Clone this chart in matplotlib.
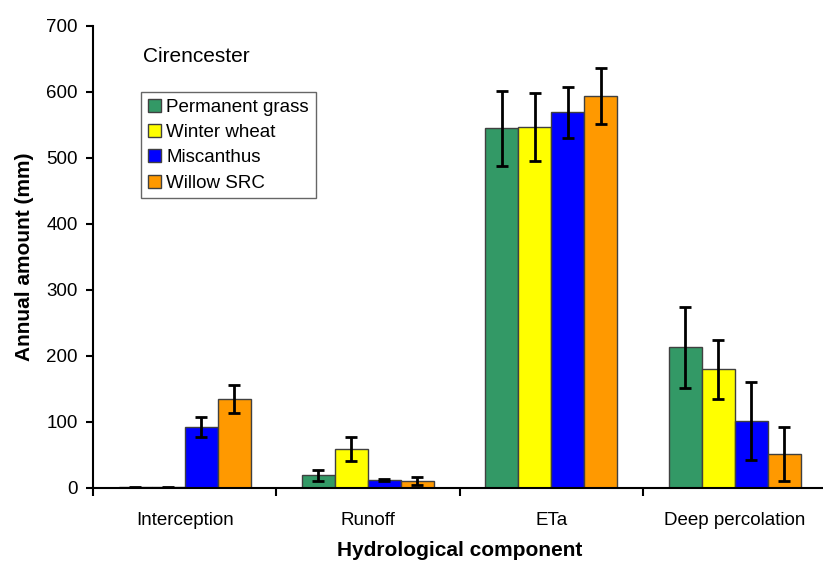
import matplotlib
matplotlib.use("Agg")
import matplotlib.pyplot as plt
import numpy as np

plt.rcParams['font.family'] = ['Liberation Sans', 'DejaVu Sans']

categories = ["Interception", "Runoff", "ETa", "Deep percolation"]
series = ["Permanent grass", "Winter wheat", "Miscanthus", "Willow SRC"]
colors = ["#339966", "#FFFF00", "#0000FF", "#FF9900"]

grass = [1, 19, 545, 213]
wheat = [1, 59, 547, 180]
miscanthus = [92, 12, 569, 101]
willow = [135, 10, 594, 51]

grass_err = [1, 9, 57, 61]
wheat_err = [1, 18, 51, 45]
miscanthus_err = [15, 1, 39, 59]
willow_err = [21, 6, 42, 41]

values = [grass, wheat, miscanthus, willow]
errors = [grass_err, wheat_err, miscanthus_err, willow_err]

fig = plt.figure(figsize=(8.23, 5.61), dpi=100)
ax = fig.add_axes([93/823, 73/561, 4*183.3/823, 462/561])

bw = 0.18
centers = np.arange(len(categories)) + 0.5
for i, (name, vals, errs, c) in enumerate(zip(series, values, errors, colors)):
    x = centers + (i - 1.5) * bw
    ax.bar(x, vals, width=bw, color=c, edgecolor="#404040", linewidth=1.0,
           label=name, zorder=2)
    ax.errorbar(x, vals, yerr=errs, fmt="none", ecolor="black", elinewidth=2,
                capsize=4, capthick=2, zorder=3)

ax.set_xlim(0, 4)
ax.set_ylim(0, 700)
ax.set_yticks(range(0, 701, 100))
ax.set_xticks([0, 1, 2, 3, 4])
ax.set_xticklabels([])
ax.set_xticks(centers, minor=True)
ax.set_xticklabels(categories, minor=True, fontsize=13.5)
ax.tick_params(axis="x", which="minor", length=0, pad=17)
ax.tick_params(axis="x", which="major", length=6, width=1.5, direction="out")
ax.tick_params(axis="y", length=5, width=1.5, direction="out", labelsize=13.5, pad=6)
for s in ["top", "right"]:
    ax.spines[s].set_visible(False)
for s in ["left", "bottom"]:
    ax.spines[s].set_linewidth(1.5)

ax.set_xlabel("Hydrological component", fontsize=15, fontweight="bold", labelpad=9)
ax.set_ylabel("Annual amount (mm)", fontsize=15, fontweight="bold", labelpad=9)

ax.text(0.068, 0.933, "Cirencester", transform=ax.transAxes, fontsize=15,
        ha="left", va="center")

leg = ax.legend(loc="upper left", bbox_to_anchor=((141-93)/733.2, (488-92)/462),
                fontsize=13.5, frameon=True, fancybox=False, edgecolor="#404040",
                handlelength=0.7, handleheight=0.7, handletextpad=0.3,
                labelspacing=0.44, borderpad=0.35, borderaxespad=0)
leg.get_frame().set_linewidth(1.0)

fig.savefig("out.png", dpi=100)
